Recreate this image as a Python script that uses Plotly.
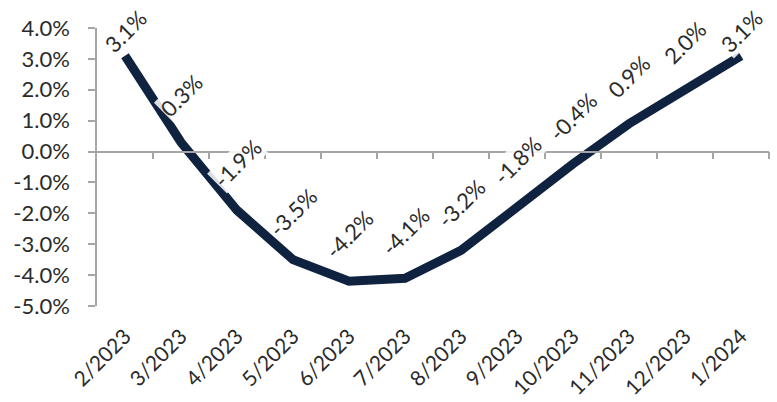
import plotly.graph_objects as go

# Monthly year-over-year change
months = ["2/2023", "3/2023", "4/2023", "5/2023", "6/2023", "7/2023",
          "8/2023", "9/2023", "10/2023", "11/2023", "12/2023", "1/2024"]
values = [3.1, 0.3, -1.9, -3.5, -4.2, -4.1, -3.2, -1.8, -0.4, 0.9, 2.0, 3.1]
y_ticks = [4, 3, 2, 1, 0, -1, -2, -3, -4, -5]

W, H = 777, 402
M_L, M_R, M_T, M_B = 97, 8, 28, 96
Y_MIN, Y_MAX = -5, 4
FONT = "Lato"
TEXT = "#2B2B2B"
AXIS = "#A6A6A6"
LINE = "#0F223F"

xs = list(range(len(months)))
fig = go.Figure()
fig.add_trace(go.Scatter(
    x=xs, y=values, mode="lines",
    line=dict(color=LINE, width=9),
    hoverinfo="skip", showlegend=False,
))
# invisible trace to activate the secondary x axis used as the zero line
fig.add_trace(go.Scatter(x=[xs[0]], y=[0], xaxis="x2", mode="markers",
                         marker=dict(opacity=0), hoverinfo="skip", showlegend=False))

plot_h = H - M_T - M_B
px_per_unit = plot_h / (Y_MAX - Y_MIN)
for i, v in enumerate(values):
    point_px = M_T + (Y_MAX - v) * px_per_unit
    center_px = max(31, point_px - 47)
    fig.add_annotation(
        x=i, y=v, xref="x", yref="y",
        text=f"{v:.1f}%", showarrow=False, textangle=-45,
        xanchor="center", yanchor="middle",
        yshift=point_px - center_px,
        font=dict(family=FONT, size=22, color=TEXT),
        bgcolor="rgba(255,255,255,0.85)", borderpad=0,
    )

fig.update_layout(
    width=W, height=H,
    margin=dict(l=M_L, r=M_R, t=M_T, b=M_B),
    paper_bgcolor="white", plot_bgcolor="white",
    font=dict(family=FONT, color=TEXT),
    xaxis=dict(
        range=[-0.5, len(months) - 0.5],
        tickvals=xs, ticktext=months, tickangle=-45,
        showline=False, showgrid=False, zeroline=False, ticks="",
        tickfont=dict(family=FONT, size=21, color=TEXT),
        ticklabelstandoff=13, automargin=False,
    ),
    xaxis2=dict(
        overlaying="x", anchor="free",
        position=(0 - Y_MIN) / (Y_MAX - Y_MIN),
        range=[-0.5, len(months) - 0.5],
        tickvals=[i + 0.5 for i in xs],
        showticklabels=False, showgrid=False, zeroline=False,
        showline=True, linecolor=AXIS, linewidth=1.5,
        ticks="outside", ticklen=7, tickcolor=AXIS, tickwidth=1.5,
        automargin=False,
    ),
    yaxis=dict(
        range=[Y_MIN, Y_MAX], tickvals=y_ticks,
        ticktext=[f"{t:.1f}%" for t in y_ticks],
        showline=True, linecolor=AXIS, linewidth=1.5,
        ticks="outside", ticklen=7, tickcolor=AXIS, tickwidth=1.5,
        showgrid=False, zeroline=False,
        tickfont=dict(family=FONT, size=22, color=TEXT),
        ticklabelstandoff=14, automargin=False,
    ),
)

fig.write_html("out.html")
